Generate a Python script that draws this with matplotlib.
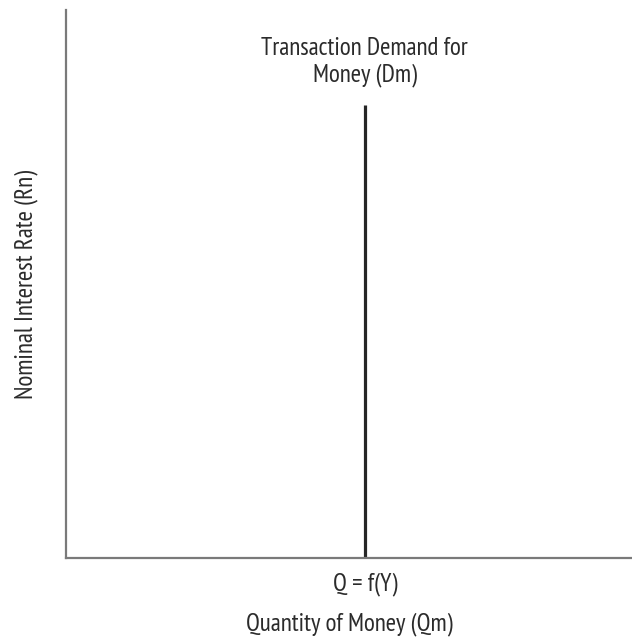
import matplotlib.pyplot as plt

# 縦線（取引需要）のデータ
demand_x = [5.28, 5.28]
demand_y = [0, 8.27]
tick_pos = [5.28]
tick_labels = ['Q = f(Y)']
curve_label = 'Transaction Demand for\nMoney (Dm)'

plt.rcParams['font.family'] = ['PT Sans Narrow', 'DejaVu Sans']
txt_color = '#2b2b2b'
fs = 18

fig = plt.figure(figsize=(6.32, 6.40), dpi=100)
ax = fig.add_axes([0.1044, 0.128, 0.8956, 0.856])

ax.plot(demand_x, demand_y, color='#262626', linewidth=2.3, solid_capstyle='butt')
ax.text(demand_x[0], 8.6, curve_label, ha='center', va='bottom', fontsize=fs,
        color=txt_color, linespacing=1.2)

ax.set_xlim(0, 10)
ax.set_ylim(0, 10)
ax.set_xticks(tick_pos)
ax.set_xticklabels(tick_labels, fontsize=fs, color=txt_color)
ax.tick_params(axis='x', length=0, pad=10)
ax.set_yticks([])
for s in ['top', 'right']:
    ax.spines[s].set_visible(False)
for s in ['left', 'bottom']:
    ax.spines[s].set_color('#7a7a7a')
    ax.spines[s].set_linewidth(1.6)

ax.set_xlabel('Quantity of Money (Qm)', fontsize=fs, color=txt_color, labelpad=12)
ax.set_ylabel('Nominal Interest Rate (Rn)', fontsize=fs, color=txt_color, labelpad=20)

plt.savefig('out.png', dpi=100)
